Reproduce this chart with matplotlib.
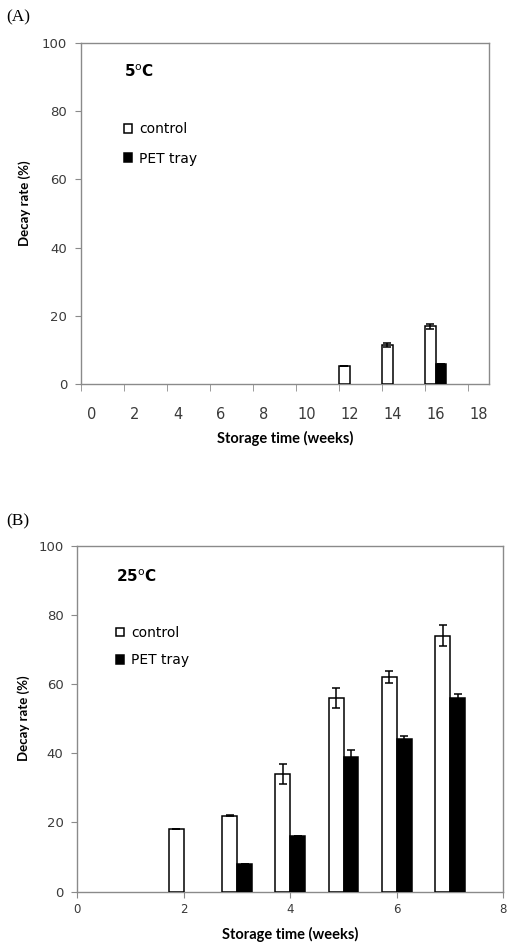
import matplotlib
matplotlib.use("Agg")
import matplotlib.pyplot as plt
import numpy as np

# panel A: 5 C
weeks_a_control = [12, 14, 16]
control_a = [5.5, 11.5, 17.0]
control_a_err = [0.0, 0.5, 0.7]
weeks_a_pet = [16]
pet_a = [6.0]
pet_a_err = [0.0]

# panel B: 25 C
weeks_b_control = [2, 3, 4, 5, 6, 7]
control_b = [18.0, 22.0, 34.0, 56.0, 62.0, 74.0]
control_b_err = [0.0, 0.2, 2.9, 2.9, 1.7, 3.0]
weeks_b_pet = [3, 4, 5, 6, 7]
pet_b = [8.0, 16.0, 39.0, 44.0, 56.0]
pet_b_err = [0.0, 0.0, 1.9, 1.1, 1.0]

yticks = [0, 20, 40, 60, 80, 100]
xticks_a = list(range(0, 19, 2))
xticks_b = [0, 2, 4, 6, 8]

spine_col = "#8a8a8a"
txt_col = "#3a3a3a"
tick_font = "DejaVu Sans"
bold_font = "Lato"

fig = plt.figure(figsize=(5.07, 9.47), dpi=100)


def style_axes(ax):
    for s in ax.spines.values():
        s.set_color(spine_col)
        s.set_linewidth(1.0)
    ax.set_ylim(0, 100)
    ax.set_yticks(yticks)
    ax.tick_params(axis="y", direction="out", length=4, color=spine_col,
                   labelsize=9.5, labelcolor=txt_col, pad=6)
    for lab in ax.get_yticklabels():
        lab.set_family(tick_font)
    ax.set_ylabel("Decay rate (%)", fontsize=9.5, fontweight="bold",
                  family=bold_font, color="black", labelpad=6)
    ax.set_xlabel("Storage time (weeks)", fontsize=10.5, fontweight="bold",
                  family=bold_font, color="black")


def draw_bars(ax, wc, c, ce, wp, p, pe, w):
    ebar = dict(ecolor="black", elinewidth=1.1, capsize=3, capthick=1.1)
    b1 = ax.bar(wc, c, width=-w, align="edge", color="white", edgecolor="black",
                linewidth=1.1, label="control", zorder=3)
    ax.errorbar(np.array(wc) - w / 2, c, yerr=ce, fmt="none", zorder=4, **ebar)
    b2 = ax.bar(wp, p, width=w, align="edge", color="black", edgecolor="black",
                linewidth=1.1, label="PET tray", zorder=3)
    ax.errorbar(np.array(wp) + w / 2, p, yerr=pe, fmt="none", zorder=4, **ebar)
    return b1, b2


# ---- (A)
axA = fig.add_axes([0.1598, 0.5942, 0.8053, 0.3607])
b1, b2 = draw_bars(axA, weeks_a_control, control_a, control_a_err,
                   weeks_a_pet, pet_a, pet_a_err, 0.5)
style_axes(axA)
axA.yaxis.set_label_coords(-0.122, 0.53)
axA.set_xlim(-0.5, 18.5)
axA.set_xticks(xticks_a)
axA.set_xticks(np.arange(-0.5, 18.5, 2), minor=True)
axA.tick_params(axis="x", which="major", length=0, labelsize=10.5,
                labelcolor=txt_col, pad=16)
axA.tick_params(axis="x", which="minor", direction="out", length=5,
                color=spine_col)
for lab in axA.get_xticklabels():
    lab.set_family(tick_font)
axA.xaxis.labelpad = 7
axA.text(0.105, 0.915, "5$^{\\mathrm{o}}$C", transform=axA.transAxes,
         fontsize=11, fontweight="bold", family=tick_font, va="center")
axA.legend(handles=[b1, b2], loc="upper left", bbox_to_anchor=(0.105, 0.767),
           frameon=False, handlelength=0.6, handleheight=0.6,
           handletextpad=0.5, labelspacing=1.1, borderpad=0, borderaxespad=0,
           prop={"family": tick_font, "size": 10})
fig.text(0.012, 0.982, "(A)", fontsize=12.5, family="Liberation Serif",
         va="center")

# ---- (B)
axB = fig.add_axes([0.1525, 0.0584, 0.8402, 0.3654])
b1, b2 = draw_bars(axB, weeks_b_control, control_b, control_b_err,
                   weeks_b_pet, pet_b, pet_b_err, 0.28)
style_axes(axB)
axB.set_xlim(0, 8)
axB.set_xticks(xticks_b)
axB.tick_params(axis="x", direction="out", length=4, color=spine_col,
                labelsize=8.5, labelcolor=txt_col, pad=4)
for lab in axB.get_xticklabels():
    lab.set_family(tick_font)
axB.xaxis.labelpad = 8
axB.text(0.09, 0.91, "25$^{\\mathrm{o}}$C", transform=axB.transAxes,
         fontsize=11, fontweight="bold", family=tick_font, va="center")
axB.legend(handles=[b1, b2], loc="upper left", bbox_to_anchor=(0.09, 0.768),
           frameon=False, handlelength=0.6, handleheight=0.6,
           handletextpad=0.5, labelspacing=0.95, borderpad=0, borderaxespad=0,
           prop={"family": tick_font, "size": 10})
fig.text(0.012, 0.449, "(B)", fontsize=12.5, family="Liberation Serif",
         va="center")

fig.savefig("out.png", dpi=100, facecolor="white")
